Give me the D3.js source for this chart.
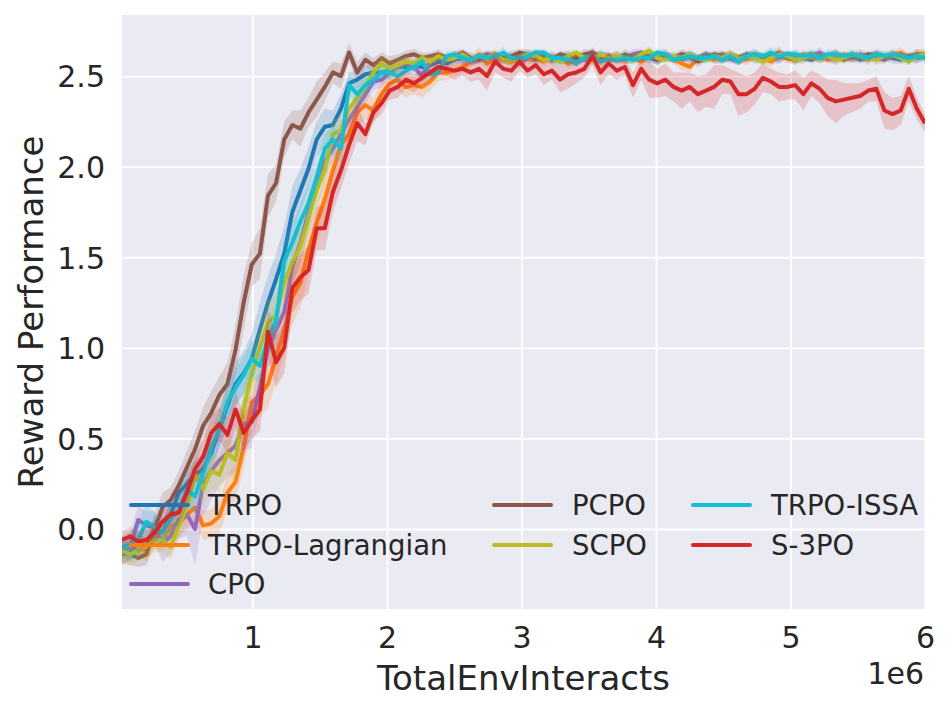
<!DOCTYPE html>
<html>
<head>
<meta charset="utf-8">
<script src="https://cdn.jsdelivr.net/npm/d3@7"></script>
<style>
  body { margin: 0; background: #fff; }
  svg { font-family: "DejaVu Sans", sans-serif; }
</style>
</head>
<body>
<svg width="950" height="710"></svg>
<script>
// 100 evaluatiepunten, gelijk verdeeld tussen 3e4 en 6e6 stappen
const nPoints = 100;
const steps = d3.range(nPoints).map(i => 30000 + i * (6000000 - 30000) / (nPoints - 1));

const trpo = [
  -0.10,-0.12,-0.08,-0.10,0.00,-0.02,0.08,0.20,0.25,0.30,
  0.33,0.42,0.55,0.68,0.80,0.86,0.94,1.10,1.25,1.38,
  1.52,1.75,1.87,1.99,2.15,2.22,2.23,2.32,2.46,2.48,
  2.51,2.52,2.52,2.53,2.55,2.55,2.56,2.55,2.56,2.58,
  2.57,2.59,2.60,2.58,2.60,2.61,2.59,2.60,2.58,2.61,
  2.60,2.59,2.61,2.60,2.58,2.60,2.61,2.59,2.60,2.62,
  2.60,2.61,2.59,2.60,2.62,2.60,2.59,2.61,2.60,2.59,
  2.61,2.60,2.62,2.60,2.59,2.61,2.60,2.62,2.60,2.61,
  2.59,2.60,2.62,2.61,2.60,2.59,2.61,2.60,2.62,2.60,
  2.61,2.59,2.60,2.62,2.61,2.60,2.59,2.61,2.60,2.61
];
const trpoLag = [
  -0.15,-0.10,-0.08,-0.12,-0.04,-0.06,0.01,0.03,0.08,0.12,
  0.02,0.03,0.07,0.20,0.26,0.45,0.70,0.74,0.80,0.95,
  1.10,1.28,1.36,1.54,1.69,1.82,1.98,2.12,2.18,2.30,
  2.34,2.31,2.40,2.46,2.48,2.44,2.45,2.44,2.47,2.52,
  2.52,2.53,2.55,2.58,2.62,2.57,2.59,2.60,2.58,2.61,
  2.59,2.60,2.58,2.61,2.60,2.57,2.59,2.61,2.60,2.58,
  2.60,2.61,2.59,2.60,2.58,2.61,2.60,2.62,2.59,2.57,
  2.55,2.60,2.61,2.59,2.60,2.62,2.60,2.59,2.61,2.60,
  2.58,2.61,2.60,2.59,2.62,2.60,2.61,2.59,2.60,2.62,
  2.60,2.61,2.59,2.62,2.60,2.61,2.63,2.60,2.62,2.62
];
const cpo = [
  -0.13,-0.10,0.05,0.02,0.01,-0.08,-0.04,0.05,0.08,0.00,
  0.25,0.32,0.38,0.42,0.46,0.58,0.59,0.78,1.00,1.10,
  1.20,1.45,1.58,1.75,1.93,2.03,2.10,2.18,2.26,2.33,
  2.40,2.47,2.48,2.52,2.55,2.58,2.55,2.50,2.58,2.60,
  2.59,2.61,2.60,2.58,2.60,2.62,2.60,2.59,2.61,2.57,
  2.60,2.62,2.61,2.59,2.60,2.61,2.58,2.60,2.62,2.60,
  2.61,2.59,2.60,2.62,2.63,2.60,2.59,2.61,2.60,2.62,
  2.60,2.59,2.61,2.60,2.62,2.60,2.58,2.61,2.60,2.59,
  2.61,2.60,2.62,2.59,2.60,2.61,2.63,2.60,2.59,2.61,
  2.60,2.62,2.61,2.60,2.59,2.62,2.60,2.61,2.60,2.62
];
const pcpo = [
  -0.13,-0.14,-0.16,-0.14,0.00,0.12,0.16,0.24,0.34,0.44,
  0.57,0.64,0.74,0.80,0.99,1.25,1.46,1.52,1.84,1.91,
  2.15,2.23,2.21,2.30,2.37,2.44,2.52,2.50,2.63,2.52,
  2.59,2.56,2.60,2.57,2.59,2.61,2.62,2.60,2.61,2.62,
  2.60,2.61,2.63,2.60,2.59,2.61,2.62,2.60,2.61,2.63,
  2.62,2.60,2.61,2.59,2.62,2.61,2.60,2.62,2.63,2.60,
  2.61,2.59,2.62,2.60,2.61,2.62,2.59,2.61,2.60,2.62,
  2.61,2.58,2.60,2.62,2.61,2.60,2.59,2.61,2.62,2.60,
  2.61,2.63,2.60,2.59,2.61,2.62,2.60,2.61,2.62,2.59,
  2.61,2.60,2.62,2.61,2.60,2.62,2.61,2.60,2.62,2.61
];
const scpo = [
  -0.12,-0.14,-0.12,-0.10,-0.06,-0.06,-0.10,0.02,0.12,0.30,
  0.22,0.32,0.30,0.42,0.38,0.66,0.86,1.00,1.14,1.18,
  1.36,1.47,1.56,1.72,1.87,1.98,2.18,2.20,2.32,2.38,
  2.44,2.52,2.57,2.54,2.56,2.58,2.57,2.60,2.58,2.61,
  2.59,2.60,2.62,2.59,2.61,2.60,2.62,2.59,2.58,2.60,
  2.62,2.61,2.59,2.60,2.58,2.61,2.63,2.60,2.59,2.62,
  2.60,2.61,2.60,2.59,2.62,2.64,2.60,2.59,2.61,2.60,
  2.62,2.60,2.59,2.61,2.60,2.62,2.59,2.61,2.60,2.58,
  2.60,2.62,2.61,2.59,2.60,2.62,2.60,2.61,2.59,2.60,
  2.62,2.61,2.60,2.59,2.61,2.62,2.60,2.58,2.61,2.62
];
const trpoIssa = [
  -0.10,-0.09,-0.06,0.04,0.01,-0.02,0.06,0.10,0.22,0.18,
  0.31,0.45,0.55,0.70,0.78,0.85,0.94,0.90,1.05,1.15,
  1.48,1.58,1.70,1.80,1.94,2.10,2.15,2.10,2.45,2.40,
  2.45,2.48,2.52,2.52,2.50,2.53,2.55,2.58,2.51,2.52,
  2.61,2.62,2.60,2.59,2.61,2.60,2.61,2.63,2.60,2.60,
  2.61,2.63,2.63,2.60,2.60,2.59,2.57,2.60,2.61,2.58,
  2.59,2.59,2.60,2.59,2.60,2.60,2.63,2.62,2.59,2.60,
  2.61,2.60,2.60,2.61,2.59,2.61,2.58,2.61,2.62,2.61,
  2.63,2.61,2.62,2.62,2.61,2.62,2.60,2.62,2.62,2.61,
  2.62,2.61,2.60,2.62,2.61,2.62,2.61,2.60,2.61,2.60
];
const s3po = [
  -0.06,-0.04,-0.07,-0.06,-0.02,0.04,0.08,0.09,0.20,0.33,
  0.40,0.53,0.58,0.52,0.66,0.53,0.60,0.66,1.09,0.92,
  1.00,1.33,1.39,1.43,1.66,1.66,1.86,1.98,2.12,2.24,
  2.18,2.30,2.35,2.42,2.44,2.48,2.46,2.49,2.52,2.55,
  2.54,2.53,2.54,2.52,2.54,2.50,2.58,2.54,2.53,2.58,
  2.53,2.56,2.51,2.53,2.48,2.51,2.52,2.54,2.61,2.52,
  2.57,2.53,2.55,2.45,2.54,2.48,2.46,2.48,2.44,2.42,
  2.44,2.40,2.42,2.44,2.48,2.47,2.40,2.40,2.43,2.49,
  2.47,2.44,2.44,2.45,2.40,2.46,2.43,2.38,2.36,2.37,
  2.38,2.39,2.42,2.43,2.31,2.29,2.31,2.43,2.32,2.24
];

// halve breedte van de schaduwband (spreiding over seeds)
const trpoSd = [
  0.05,0.06,0.06,0.05,0.07,0.06,0.08,0.07,0.08,0.08,
  0.09,0.10,0.10,0.12,0.12,0.12,0.14,0.15,0.15,0.14,
  0.15,0.14,0.12,0.12,0.10,0.10,0.08,0.08,0.06,0.05,
  0.05,0.04,0.04,0.04,0.03,0.03,0.03,0.03,0.03,0.03,
  0.03,0.02,0.03,0.02,0.03,0.02,0.02,0.03,0.02,0.03,
  0.02,0.03,0.02,0.02,0.03,0.02,0.03,0.02,0.02,0.03,
  0.02,0.03,0.02,0.03,0.02,0.02,0.03,0.02,0.03,0.02,
  0.03,0.02,0.02,0.03,0.02,0.03,0.02,0.02,0.03,0.02,
  0.02,0.03,0.02,0.03,0.02,0.02,0.03,0.02,0.03,0.02,
  0.03,0.02,0.02,0.03,0.02,0.03,0.02,0.02,0.03,0.02
];
const trpoLagSd = [
  0.05,0.06,0.06,0.06,0.07,0.06,0.07,0.08,0.08,0.08,
  0.08,0.08,0.09,0.10,0.10,0.12,0.12,0.12,0.13,0.14,
  0.14,0.15,0.14,0.14,0.12,0.12,0.10,0.10,0.09,0.08,
  0.08,0.07,0.07,0.06,0.06,0.06,0.05,0.06,0.05,0.05,
  0.04,0.04,0.03,0.03,0.04,0.03,0.03,0.03,0.02,0.03,
  0.03,0.02,0.03,0.03,0.02,0.03,0.03,0.02,0.03,0.03,
  0.02,0.03,0.03,0.02,0.03,0.02,0.03,0.03,0.02,0.04,
  0.03,0.02,0.03,0.02,0.03,0.03,0.02,0.03,0.02,0.03,
  0.03,0.02,0.03,0.02,0.03,0.02,0.03,0.02,0.03,0.02,
  0.03,0.02,0.03,0.02,0.03,0.02,0.03,0.02,0.03,0.03
];
const cpoSd = [
  0.06,0.08,0.08,0.08,0.09,0.10,0.10,0.10,0.12,0.20,
  0.18,0.16,0.14,0.14,0.14,0.15,0.14,0.12,0.12,0.12,
  0.12,0.12,0.10,0.10,0.08,0.08,0.07,0.07,0.06,0.06,
  0.05,0.05,0.04,0.04,0.04,0.03,0.03,0.04,0.03,0.03,
  0.03,0.02,0.03,0.02,0.03,0.02,0.03,0.02,0.02,0.03,
  0.02,0.03,0.02,0.03,0.02,0.02,0.03,0.02,0.03,0.02,
  0.03,0.02,0.02,0.03,0.02,0.03,0.02,0.03,0.02,0.02,
  0.03,0.02,0.03,0.02,0.02,0.03,0.02,0.03,0.02,0.03,
  0.02,0.03,0.02,0.02,0.03,0.02,0.03,0.02,0.03,0.02,
  0.02,0.03,0.02,0.03,0.02,0.02,0.03,0.02,0.03,0.02
];
const pcpoSd = [
  0.06,0.06,0.05,0.06,0.08,0.08,0.07,0.08,0.09,0.10,
  0.10,0.12,0.10,0.12,0.14,0.15,0.12,0.14,0.12,0.10,
  0.10,0.08,0.10,0.08,0.10,0.08,0.06,0.07,0.05,0.06,
  0.04,0.04,0.03,0.04,0.03,0.03,0.03,0.03,0.02,0.03,
  0.02,0.03,0.02,0.03,0.02,0.03,0.02,0.02,0.03,0.02,
  0.03,0.02,0.03,0.02,0.02,0.03,0.02,0.03,0.02,0.03,
  0.02,0.02,0.03,0.02,0.03,0.02,0.03,0.02,0.02,0.03,
  0.02,0.03,0.02,0.02,0.03,0.02,0.03,0.02,0.03,0.02,
  0.02,0.03,0.02,0.03,0.02,0.02,0.03,0.02,0.03,0.02,
  0.03,0.02,0.02,0.03,0.02,0.03,0.02,0.02,0.03,0.02
];
const scpoSd = [
  0.05,0.06,0.06,0.06,0.07,0.07,0.07,0.08,0.08,0.09,
  0.09,0.10,0.10,0.11,0.12,0.12,0.12,0.12,0.12,0.12,
  0.12,0.12,0.10,0.10,0.09,0.08,0.08,0.08,0.08,0.07,
  0.05,0.04,0.05,0.04,0.04,0.03,0.03,0.03,0.03,0.03,
  0.02,0.03,0.02,0.03,0.02,0.02,0.03,0.02,0.03,0.02,
  0.03,0.02,0.02,0.03,0.02,0.03,0.02,0.02,0.03,0.02,
  0.02,0.03,0.02,0.03,0.02,0.03,0.02,0.02,0.03,0.02,
  0.03,0.02,0.02,0.03,0.02,0.02,0.03,0.02,0.03,0.02,
  0.02,0.03,0.02,0.02,0.03,0.02,0.03,0.02,0.02,0.03,
  0.02,0.03,0.02,0.03,0.02,0.02,0.03,0.02,0.03,0.02
];
const trpoIssaSd = [
  0.06,0.08,0.10,0.10,0.08,0.08,0.08,0.09,0.10,0.09,
  0.09,0.09,0.10,0.10,0.10,0.10,0.10,0.10,0.10,0.10,
  0.12,0.10,0.10,0.10,0.09,0.08,0.08,0.08,0.06,0.06,
  0.05,0.04,0.04,0.04,0.04,0.03,0.03,0.03,0.03,0.03,
  0.03,0.02,0.03,0.02,0.02,0.03,0.02,0.03,0.02,0.02,
  0.03,0.02,0.02,0.03,0.02,0.03,0.02,0.02,0.03,0.02,
  0.03,0.02,0.03,0.02,0.02,0.03,0.02,0.03,0.02,0.02,
  0.03,0.02,0.03,0.02,0.02,0.03,0.02,0.02,0.03,0.02,
  0.03,0.02,0.02,0.03,0.02,0.03,0.02,0.03,0.02,0.02,
  0.03,0.02,0.03,0.02,0.03,0.02,0.02,0.03,0.02,0.03
];
const s3poSd = [
  0.05,0.05,0.06,0.06,0.06,0.06,0.06,0.07,0.07,0.08,
  0.08,0.09,0.09,0.10,0.10,0.10,0.10,0.12,0.14,0.14,
  0.14,0.14,0.13,0.13,0.12,0.12,0.11,0.10,0.10,0.10,
  0.06,0.05,0.06,0.05,0.06,0.05,0.05,0.04,0.04,0.04,
  0.04,0.05,0.04,0.05,0.06,0.08,0.06,0.05,0.06,0.05,
  0.04,0.05,0.06,0.05,0.07,0.08,0.06,0.05,0.05,0.07,
  0.06,0.05,0.05,0.07,0.06,0.10,0.08,0.09,0.08,0.10,
  0.08,0.10,0.09,0.12,0.08,0.07,0.12,0.10,0.09,0.08,
  0.07,0.08,0.07,0.08,0.09,0.07,0.08,0.10,0.12,0.09,
  0.08,0.07,0.06,0.07,0.10,0.09,0.08,0.07,0.06,0.05
];

const labels = ["TRPO", "TRPO-Lagrangian", "CPO", "PCPO", "SCPO", "TRPO-ISSA", "S-3PO"];
const colors = ["#1f77b4", "#ff7f0e", "#9467bd", "#8c564b", "#bcbd22", "#17becf", "#d62728"];
const means = [trpo, trpoLag, cpo, pcpo, scpo, trpoIssa, s3po];
const spreads = [trpoSd, trpoLagSd, cpoSd, pcpoSd, scpoSd, trpoIssaSd, s3poSd];

const xTicks = [1e6, 2e6, 3e6, 4e6, 5e6, 6e6];
const yTicks = [0, 0.5, 1.0, 1.5, 2.0, 2.5];

// plotgebied
const plotLeft = 122, plotRight = 925, plotTop = 15, plotBottom = 609;
const textColor = "#262626";

const svg = d3.select("svg");

const x = d3.scaleLinear().domain([30000, 6000000]).range([plotLeft, plotRight]);
const y = d3.scaleLinear().domain([-0.4415, 2.837]).range([plotBottom, plotTop]);

// achtergrond in seaborn darkgrid stijl
svg.append("rect")
  .attr("x", plotLeft).attr("y", plotTop)
  .attr("width", plotRight - plotLeft).attr("height", plotBottom - plotTop)
  .attr("fill", "#eaeaf2");

svg.append("clipPath").attr("id", "plot-clip")
  .append("rect")
  .attr("x", plotLeft).attr("y", plotTop)
  .attr("width", plotRight - plotLeft).attr("height", plotBottom - plotTop);

// assen met gridlijnen
const yAxis = svg.append("g")
  .attr("transform", `translate(${plotLeft},0)`)
  .call(d3.axisLeft(y).tickValues(yTicks).tickFormat(d3.format(".1f"))
    .tickSize(-(plotRight - plotLeft)).tickPadding(17));

const xAxis = svg.append("g")
  .attr("transform", `translate(0,${plotBottom})`)
  .call(d3.axisBottom(x).tickValues(xTicks).tickFormat(d => d / 1e6)
    .tickSize(-(plotBottom - plotTop)).tickPadding(18));

[xAxis, yAxis].forEach(g => {
  g.select(".domain").remove();
  g.selectAll(".tick line").attr("stroke", "#fff").attr("stroke-width", 1.8);
  g.selectAll(".tick text")
    .attr("fill", textColor)
    .style("font-size", "30px")
    .style("font-family", "'DejaVu Sans', sans-serif");
});
yAxis.selectAll(".tick text").attr("dy", "0.36em");

// banden en lijnen
const plot = svg.append("g").attr("clip-path", "url(#plot-clip)");

const area = d3.area()
  .x(d => x(d.step))
  .y0(d => y(d.mean - d.sd))
  .y1(d => y(d.mean + d.sd));

const line = d3.line()
  .x(d => x(d.step))
  .y(d => y(d.mean));

means.forEach((series, k) => {
  const rows = series.map((v, i) => ({ step: steps[i], mean: v, sd: spreads[k][i] }));
  plot.append("path")
    .attr("d", area(rows))
    .attr("fill", colors[k])
    .attr("fill-opacity", 0.2);
  plot.append("path")
    .attr("d", line(rows))
    .attr("fill", "none")
    .attr("stroke", colors[k])
    .attr("stroke-width", 4)
    .attr("stroke-linejoin", "round");
});

// legenda: 3 kolommen, kolomsgewijs gevuld
const legendCols = [
  { line: 131, text: 208, items: [0, 1, 2] },
  { line: 494, text: 572, items: [3, 4] },
  { line: 693, text: 771, items: [5, 6] }
];
const legendRows = [505, 545, 584];

const legend = svg.append("g");
legendCols.forEach(col => {
  col.items.forEach((k, r) => {
    legend.append("line")
      .attr("x1", col.line).attr("x2", col.line + 57)
      .attr("y1", legendRows[r]).attr("y2", legendRows[r])
      .attr("stroke", colors[k])
      .attr("stroke-width", 4)
      .attr("stroke-linecap", "round");
    legend.append("text")
      .attr("x", col.text).attr("y", legendRows[r])
      .attr("dy", "0.36em")
      .attr("fill", textColor)
      .style("font-size", "27.5px")
      .text(labels[k]);
  });
});

// aslabels
svg.append("text")
  .attr("x", (plotLeft + plotRight) / 2).attr("y", 690)
  .attr("text-anchor", "middle")
  .attr("fill", textColor)
  .style("font-size", "34px")
  .text("TotalEnvInteracts");

svg.append("text")
  .attr("transform", "translate(43,312) rotate(-90)")
  .attr("text-anchor", "middle")
  .attr("fill", textColor)
  .style("font-size", "34px")
  .text("Reward Performance");

svg.append("text")
  .attr("x", 924).attr("y", 684)
  .attr("text-anchor", "end")
  .attr("fill", textColor)
  .style("font-size", "30px")
  .text("1e6");
</script>
</body>
</html>
